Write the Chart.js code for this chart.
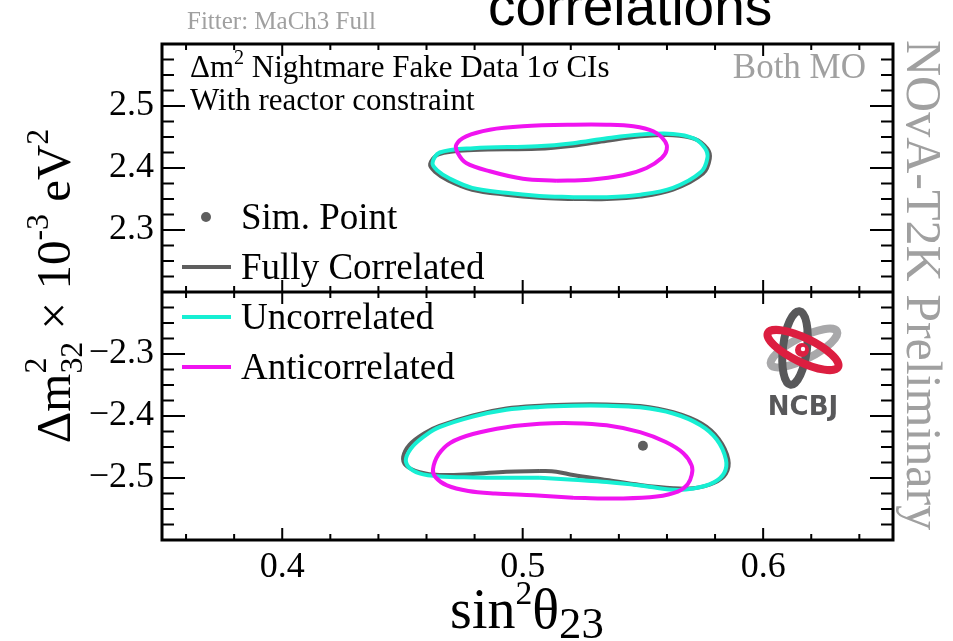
<!DOCTYPE html>
<html>
<head>
<meta charset="utf-8">
<script src="https://cdn.jsdelivr.net/npm/chart.js@4.4.1/dist/chart.umd.min.js"></script>
<style>
  html, body { margin: 0; padding: 0; background: #fff; }
  #wrap { width: 953px; height: 641px; }
</style>
</head>
<body>
<div id="wrap"><canvas id="contourChart" width="953" height="641"></canvas></div>
<script>
// axis ranges and tick labels
const xRange = [0.35, 0.654];
const yTopRange = [2.2, 2.6];
const yBotRange = [-2.6, -2.2];
const xTickValues = [0.4, 0.5, 0.6];
const yTopTickValues = [2.3, 2.4, 2.5];
const yTopTickLabels = ['2.3', '2.4', '2.5'];
const yBotTickValues = [-2.5, -2.4, -2.3];
const yBotTickLabels = ['\u22122.5', '\u22122.4', '\u22122.3'];

// 1 sigma contours, upper panel (positive dm2)
const fullTopX = [0.521, 0.507, 0.493, 0.479, 0.469, 0.4635, 0.4615, 0.4650, 0.4795, 0.506, 0.521, 0.535, 0.549, 0.5625, 0.5715, 0.5768, 0.5778, 0.575, 0.5625, 0.549, 0.535];
const fullTopY = [2.350, 2.352, 2.357, 2.365, 2.380, 2.394, 2.406, 2.422, 2.429, 2.431, 2.436, 2.444, 2.451, 2.453, 2.447, 2.431, 2.415, 2.391, 2.365, 2.354, 2.350];
const uncorTopX = [0.521, 0.507, 0.493, 0.479, 0.4696, 0.4645, 0.4625, 0.4655, 0.4795, 0.506, 0.521, 0.535, 0.549, 0.5625, 0.571, 0.5758, 0.5768, 0.574, 0.5625, 0.549, 0.535];
const uncorTopY = [2.353, 2.355, 2.360, 2.368, 2.383, 2.396, 2.408, 2.425, 2.432, 2.435, 2.440, 2.448, 2.454, 2.455, 2.448, 2.432, 2.416, 2.393, 2.368, 2.357, 2.353];
const antiTopX = [0.514, 0.5001, 0.4863, 0.4765, 0.473, 0.4724, 0.4765, 0.4863, 0.5001, 0.521, 0.5349, 0.546, 0.5543, 0.5592, 0.5599, 0.5578, 0.5515, 0.5418, 0.5279];
const antiTopY = [2.3795, 2.3827, 2.3947, 2.4081, 2.4242, 2.4376, 2.4511, 2.4618, 2.4673, 2.4698, 2.4698, 2.4673, 2.4592, 2.443, 2.4295, 2.4161, 2.400, 2.3882, 2.3811];

// 1 sigma contours, lower panel (negative dm2)
const fullBotX = [0.5071, 0.4932, 0.4793, 0.4654, 0.4571, 0.4515, 0.4503, 0.4530, 0.4590, 0.4654, 0.4793, 0.4932, 0.5071, 0.521, 0.5349, 0.5488, 0.5626, 0.5745, 0.5815, 0.5855, 0.5845, 0.5795, 0.571, 0.5626, 0.5488, 0.5349, 0.521, 0.514];
const fullBotY = [-2.4887, -2.4898, -2.4935, -2.4952, -2.4905, -2.480, -2.466, -2.446, -2.428, -2.416, -2.399, -2.388, -2.3835, -2.3815, -2.3815, -2.384, -2.394, -2.4125, -2.437, -2.470, -2.493, -2.508, -2.5165, -2.5166, -2.5113, -2.5032, -2.4952, -2.4898];
const uncorBotX = [0.5071, 0.4932, 0.4793, 0.4654, 0.4571, 0.4525, 0.4515, 0.4545, 0.4600, 0.4654, 0.4793, 0.4932, 0.5071, 0.521, 0.5349, 0.5488, 0.5626, 0.5738, 0.5807, 0.5845, 0.5838, 0.5793, 0.571, 0.5626, 0.5488, 0.5349, 0.521];
const uncorBotY = [-2.4995, -2.4995, -2.4990, -2.4975, -2.4925, -2.482, -2.468, -2.448, -2.430, -2.418, -2.401, -2.390, -2.3855, -2.3835, -2.3835, -2.386, -2.396, -2.4145, -2.438, -2.470, -2.492, -2.5075, -2.517, -2.519, -2.512, -2.5065, -2.503];
const antiBotX = [0.521, 0.5045, 0.4885, 0.4774, 0.4685, 0.4638, 0.4627, 0.4650, 0.4700, 0.4793, 0.4932, 0.5071, 0.521, 0.5349, 0.5488, 0.5595, 0.5668, 0.5703, 0.5703, 0.5686, 0.5645, 0.5557, 0.5418];
const antiBotY = [-2.532, -2.528, -2.525, -2.521, -2.512, -2.499, -2.486, -2.462, -2.443, -2.429, -2.418, -2.4125, -2.4115, -2.415, -2.426, -2.442, -2.460, -2.480, -2.495, -2.510, -2.522, -2.530, -2.533];

// simulated point
const simPointX = [0.55];
const simPointY = [-2.448];

const seriesNames = ['Sim. Point', 'Fully Correlated', 'Uncorrelated', 'Anticorrelated'];
const colFull = '#5e5e5e';
const colUncor = '#16efd3';
const colAnti = '#f014f0';
const serif = '"Liberation Serif", "Times New Roman", serif';

function closeLoop(xs, ys) {
    const pts = xs.map((x, i) => ({ x: x, y: ys[i] }));
    pts.push({ x: xs[0], y: ys[0] });
    return pts;
}

function contour(label, xs, ys, color, axis, order) {
    return {
        label: label,
        data: closeLoop(xs, ys),
        yAxisID: axis,
        showLine: true,
        borderColor: color,
        backgroundColor: color,
        borderWidth: 4,
        pointRadius: 0,
        tension: 0.35,
        fill: false,
        order: order
    };
}

// width of a string made of pieces with sup/sub offsets
function richWidth(ctx, parts, size) {
    let w = 0;
    parts.forEach(p => {
        if (p.stack) {
            ctx.font = (size * 0.65) + 'px ' + serif;
            w += Math.max(...p.stack.map(s => ctx.measureText(s.t).width));
        } else {
            ctx.font = (size * (p.s || 1)) + 'px ' + serif;
            w += ctx.measureText(p.t).width;
        }
    });
    return w;
}
function drawRich(ctx, parts, x, y, size) {
    parts.forEach(p => {
        if (p.stack) {
            ctx.font = (size * 0.65) + 'px ' + serif;
            let w = 0;
            p.stack.forEach(s => {
                ctx.fillText(s.t, x, y + s.dy * size);
                w = Math.max(w, ctx.measureText(s.t).width);
            });
            x += w;
        } else {
            ctx.font = (size * (p.s || 1)) + 'px ' + serif;
            ctx.fillText(p.t, x, y + (p.dy || 0) * size);
            x += ctx.measureText(p.t).width;
        }
    });
}

function drawLogo(ctx) {
    ctx.save();
    ctx.lineWidth = 8;
    ctx.strokeStyle = '#a8a8aa';
    ctx.beginPath(); ctx.ellipse(804, 348, 37, 11, -0.47, 0, Math.PI * 2); ctx.stroke();
    ctx.strokeStyle = '#58585a';
    ctx.beginPath(); ctx.ellipse(795, 348, 12, 37, 0.12, 0, Math.PI * 2); ctx.stroke();
    ctx.strokeStyle = '#dc1e40';
    ctx.beginPath(); ctx.ellipse(803, 350, 39, 12, 0.45, 0, Math.PI * 2); ctx.stroke();
    ctx.fillStyle = '#dc1e40';
    ctx.beginPath(); ctx.arc(802, 350, 7, 0, Math.PI * 2); ctx.fill();
    ctx.fillStyle = '#fff';
    ctx.beginPath(); ctx.arc(803, 349, 2.2, 0, Math.PI * 2); ctx.fill();
    ctx.fillStyle = '#58585a';
    ctx.font = 'bold 26px "DejaVu Sans", sans-serif';
    ctx.textAlign = 'center';
    ctx.fillText('NCBJ', 803, 415);
    ctx.restore();
}

const decorPlugin = {
    id: 'decor',
    afterDatasetsDraw(chart) {
        const ctx = chart.ctx;
        const a = chart.chartArea;
        const xs = chart.scales.x, yt = chart.scales.yTop, yb = chart.scales.yBot;
        const mid = yt.getPixelForValue(yTopRange[0]);
        ctx.save();
        ctx.strokeStyle = '#000';
        // ticks, ROOT style (inside)
        ctx.lineWidth = 2;
        ctx.beginPath();
        for (let i = 18; i <= 32; i++) {
            const px = xs.getPixelForValue(i / 50);
            const len = i % 5 === 0 ? 12 : 6;
            ctx.moveTo(px, a.top); ctx.lineTo(px, a.top + len);
            ctx.moveTo(px, mid); ctx.lineTo(px, mid - len);
            ctx.moveTo(px, mid); ctx.lineTo(px, mid + len);
            ctx.moveTo(px, a.bottom); ctx.lineTo(px, a.bottom - len);
        }
        for (let i = 89; i <= 103; i++) {
            const len = i % 4 === 0 ? 23 : 12;
            [yt.getPixelForValue(i / 40), yb.getPixelForValue(-i / 40)].forEach(py => {
                ctx.moveTo(a.left, py); ctx.lineTo(a.left + len, py);
                ctx.moveTo(a.right, py); ctx.lineTo(a.right - len, py);
            });
        }
        ctx.stroke();
        // frame and panel divider
        ctx.lineWidth = 3;
        ctx.strokeRect(a.left, a.top, a.right - a.left, a.bottom - a.top);
        ctx.beginPath(); ctx.moveTo(a.left, mid); ctx.lineTo(a.right, mid); ctx.stroke();
        ctx.restore();
    },
    afterDraw(chart) {
        const ctx = chart.ctx;
        ctx.save();
        ctx.textBaseline = 'alphabetic';

        // top labels
        ctx.fillStyle = '#000';
        ctx.font = '55px "Liberation Sans", Arial, sans-serif';
        ctx.fillText('correlations', 488, 25);
        ctx.fillStyle = '#a0a0a0';
        ctx.font = '25px ' + serif;
        ctx.fillText('Fitter: MaCh3 Full', 187, 29);

        // info text
        ctx.fillStyle = '#000';
        drawRich(ctx, [{ t: '\u0394m' }, { t: '2', s: 0.65, dy: -0.42 }, { t: ' Nightmare Fake Data 1\u03c3 CIs' }], 190, 77, 31);
        ctx.font = '31px ' + serif;
        ctx.fillText('With reactor constraint', 190, 110);
        ctx.fillStyle = '#a0a0a0';
        ctx.textAlign = 'right';
        ctx.font = '35px ' + serif;
        ctx.fillText('Both MO', 866, 78);
        ctx.textAlign = 'left';

        // legend
        const rows = [217, 267, 317, 367];
        const cols = [colFull, colFull, colUncor, colAnti];
        ctx.font = '37px ' + serif;
        rows.forEach((ry, i) => {
            if (i === 0) {
                ctx.fillStyle = colFull;
                ctx.beginPath(); ctx.arc(206, ry, 5, 0, Math.PI * 2); ctx.fill();
            } else {
                ctx.strokeStyle = cols[i];
                ctx.lineWidth = 4;
                ctx.beginPath(); ctx.moveTo(182, ry); ctx.lineTo(231, ry); ctx.stroke();
            }
            ctx.fillStyle = '#000';
            ctx.fillText(seriesNames[i], 241, ry + 12);
        });

        // right side label
        ctx.save();
        ctx.fillStyle = '#a0a0a0';
        ctx.font = '50px ' + serif;
        ctx.translate(907, 40);
        ctx.rotate(Math.PI / 2);
        ctx.fillText('NOvA-T2K Preliminary', 0, 0);
        ctx.restore();

        // axis titles
        ctx.fillStyle = '#000';
        const ySize = 49;
        const yParts = [
            { t: '\u0394m' },
            { stack: [{ t: '2', dy: -0.5 }, { t: '32', dy: 0.25 }] },
            { t: ' \u00d7 10' },
            { t: '-3', s: 0.65, dy: -0.45 },
            { t: ' eV' },
            { t: '2', s: 0.65, dy: -0.45 }
        ];
        const yw = richWidth(ctx, yParts, ySize);
        ctx.save();
        ctx.translate(70, 286);
        ctx.rotate(-Math.PI / 2);
        drawRich(ctx, yParts, -yw / 2, 0, ySize);
        ctx.restore();

        const xSize = 56;
        const xParts = [
            { t: 'sin' },
            { t: '2', s: 0.6, dy: -0.42 },
            { t: '\u03b8' },
            { t: '23', s: 0.8, dy: 0.18 }
        ];
        const xw = richWidth(ctx, xParts, xSize);
        drawRich(ctx, xParts, 527 - xw / 2, 628, xSize);

        drawLogo(ctx);
        ctx.restore();
    }
};

const tickFont = { family: serif, size: 36 };

const ctx = document.getElementById('contourChart').getContext('2d');
new Chart(ctx, {
    type: 'scatter',
    data: {
        datasets: [
            contour('Fully Correlated', fullTopX, fullTopY, colFull, 'yTop', 3),
            contour('Fully Correlated', fullBotX, fullBotY, colFull, 'yBot', 3),
            contour('Uncorrelated', uncorTopX, uncorTopY, colUncor, 'yTop', 2),
            contour('Uncorrelated', uncorBotX, uncorBotY, colUncor, 'yBot', 2),
            contour('Anticorrelated', antiTopX, antiTopY, colAnti, 'yTop', 1),
            contour('Anticorrelated', antiBotX, antiBotY, colAnti, 'yBot', 1),
            {
                label: 'Sim. Point',
                data: simPointX.map((x, i) => ({ x: x, y: simPointY[i] })),
                yAxisID: 'yBot',
                pointRadius: 5,
                pointBackgroundColor: colFull,
                pointBorderWidth: 0,
                order: 0
            }
        ]
    },
    options: {
        responsive: false,
        animation: false,
        devicePixelRatio: 1,
        layout: { padding: { top: 44, right: 60, left: 0, bottom: 0 } },
        plugins: {
            legend: { display: false },
            tooltip: { enabled: false }
        },
        scales: {
            x: {
                type: 'linear',
                position: 'bottom',
                min: xRange[0],
                max: xRange[1],
                grid: { display: false, drawTicks: false },
                border: { display: false },
                afterBuildTicks: s => { s.ticks = xTickValues.map(v => ({ value: v })); },
                afterFit: s => { s.height = 101; },
                ticks: {
                    padding: 6,
                    color: '#000',
                    font: tickFont,
                    callback: v => v.toFixed(1)
                }
            },
            // the later left axis of a stack is placed on top
            yBot: {
                type: 'linear',
                position: 'left',
                stack: 'dm2',
                stackWeight: 1,
                min: yBotRange[0],
                max: yBotRange[1],
                grid: { display: false, drawTicks: false },
                border: { display: false },
                afterBuildTicks: s => { s.ticks = yBotTickValues.map(v => ({ value: v })); },
                afterFit: s => { s.width = 162; },
                ticks: {
                    padding: 8,
                    color: '#000',
                    font: tickFont,
                    callback: (v, i) => yBotTickLabels[i]
                }
            },
            yTop: {
                type: 'linear',
                position: 'left',
                stack: 'dm2',
                stackWeight: 1,
                min: yTopRange[0],
                max: yTopRange[1],
                grid: { display: false, drawTicks: false },
                border: { display: false },
                afterBuildTicks: s => { s.ticks = yTopTickValues.map(v => ({ value: v })); },
                afterFit: s => { s.width = 162; },
                ticks: {
                    padding: 8,
                    color: '#000',
                    font: tickFont,
                    callback: (v, i) => yTopTickLabels[i]
                }
            }
        }
    },
    plugins: [decorPlugin]
});
</script>
</body>
</html>
